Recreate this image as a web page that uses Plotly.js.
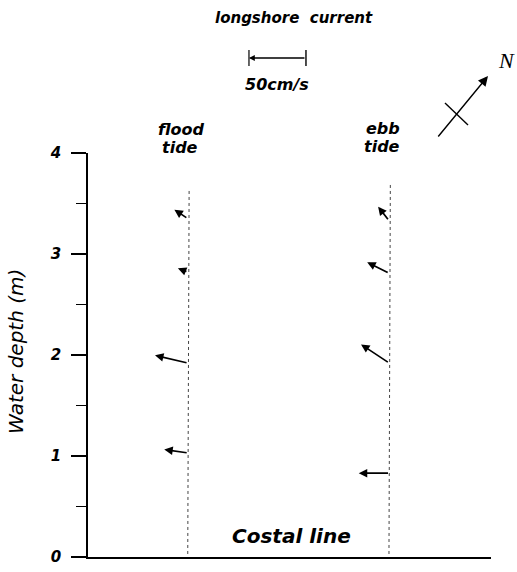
<!DOCTYPE html>
<html>
<head>
<meta charset="utf-8">
<script src="https://cdn.plot.ly/plotly-3.0.1.min.js"></script>
<style>html,body{margin:0;padding:0;background:#fff;}#chart{width:517px;height:572px;}</style>
</head>
<body>
<div id="chart"></div>
<script>
// ---- data (velocities in cm/s, depth in m) ----
const floodDepth = [3.35, 2.82, 1.92, 1.03];
const floodU = [-11.8, -8.8, -29.0, -21.0];
const floodV = [7.9, 3.5, 6.8, 3.0];
const ebbDepth = [3.33, 2.81, 1.92, 0.83];
const ebbU = [-9.6, -19.3, -24.8, -27.0];
const ebbV = [12.3, 9.6, 16.4, 0.0];
const floodTop = 3.64;
const ebbTop = 3.71;
const scaleSpeed = 50; // cm/s
const yTickVals = [0, 1, 2, 3, 4];
const yMinorVals = [0.5, 1.5, 2.5, 3.5];

// ---- layout geometry ----
const W = 517, H = 572;
const M = {l: 88, r: 26, t: 153, b: 15};
const plotW = W - M.l - M.r, plotH = H - M.t - M.b;
const xMax = 353.5;              // horizontal axis, cm/s-equivalent units
const yMax = 4;
const floodX = 87.5, ebbX = 264;  // station positions on the horizontal scale
const vScale = (plotW / xMax) / (plotH / yMax); // m of axis per cm/s

const px = (x) => (x - M.l) / plotW;
const py = (y) => (H - M.b - y) / plotH;

const FAM = 'DejaVu Sans, Verdana, sans-serif';
const bi = (s) => ({family: FAM, size: s, color: '#000', weight: 700, style: 'italic'});

const traces = [
  {x: [floodX, floodX + 1.2], y: [0.03, floodTop], mode: 'lines', line: {color: '#444', width: 1, dash: 'dot'}, hoverinfo: 'skip', showlegend: false},
  {x: [ebbX, ebbX + 1.2], y: [0.03, ebbTop], mode: 'lines', line: {color: '#444', width: 1, dash: 'dot'}, hoverinfo: 'skip', showlegend: false}
];

const annotations = [];
function vec(x0, d, u, v) {
  annotations.push({
    x: x0 + u, y: d + v * vScale, ax: x0, ay: d,
    xref: 'x', yref: 'y', axref: 'x', ayref: 'y',
    text: '', showarrow: true, arrowhead: 2, arrowsize: 1, arrowwidth: 1.7, arrowcolor: '#000'
  });
}
floodDepth.forEach((d, i) => vec(floodX + 0.5 * (1 - d / 4), d, floodU[i], floodV[i]));
ebbDepth.forEach((d, i) => vec(ebbX + 0.6 * (1 - d / 4), d, ebbU[i], ebbV[i]));

// scale arrow
const scaleRight = 191.2;
const scaleY = py(58);
annotations.push({
  x: scaleRight - scaleSpeed, y: scaleY, ax: scaleRight, ay: scaleY,
  xref: 'x', yref: 'paper', axref: 'x', ayref: 'paper',
  text: '', showarrow: true, arrowhead: 2, arrowsize: 0.9, arrowwidth: 1.3, arrowcolor: '#000'
});

function label(t, x, y, font, extra) {
  annotations.push(Object.assign({x: px(x), y: py(y), xref: 'paper', yref: 'paper', xanchor: 'center', yanchor: 'middle',
    text: t, showarrow: false, font: font}, extra || {}));
}
label('longshore\u00a0\u00a0current', 293.5, 18, bi(15));
label('50cm/s', 277, 84, bi(16));
label('flood', 181.5, 130, bi(16));
label('tide', 180, 147, bi(16));
label('ebb', 382.5, 129, bi(16));
label('tide', 382, 146, bi(16));
label('Costal line', 291, 536, bi(20));
label('Water depth (m)', 16, 352, {family: FAM, size: 20, color: '#000', style: 'italic'}, {textangle: -90});
label('N', 506, 60, {family: 'Liberation Serif, Times New Roman, serif', size: 22, color: '#000', style: 'italic'});

// north arrow
annotations.push({x: px(488), y: py(76), xref: 'paper', yref: 'paper', ax: -51, ay: 62, text: '', showarrow: true,
  arrowhead: 2, arrowsize: 1.4, arrowwidth: 1.4, arrowcolor: '#000'});

const shapes = [
  {type: 'line', xref: 'x', yref: 'paper', x0: scaleRight - scaleSpeed, x1: scaleRight - scaleSpeed, y0: py(50), y1: py(66), line: {color: '#000', width: 1.2}},
  {type: 'line', xref: 'x', yref: 'paper', x0: scaleRight, x1: scaleRight, y0: py(50), y1: py(66), line: {color: '#000', width: 1.4}},
  {type: 'line', xref: 'paper', yref: 'paper', x0: px(445), y0: py(103), x1: px(468), y1: py(125), line: {color: '#000', width: 1.4}}
];

const layout = {
  width: W, height: H,
  margin: M,
  paper_bgcolor: '#fff', plot_bgcolor: '#fff',
  showlegend: false,
  xaxis: {range: [0, xMax], showline: true, linecolor: '#000', linewidth: 2, showticklabels: false, ticks: '', showgrid: false, zeroline: false, fixedrange: true},
  yaxis: {range: [0, yMax], showline: true, linecolor: '#000', linewidth: 1.8, ticks: 'outside', ticklen: 15, tickwidth: 1.5, tickcolor: '#000',
    tickvals: yTickVals, ticktext: yTickVals.map(String), ticklabelstandoff: 7,
    minor: {tickvals: yMinorVals, ticks: 'outside', ticklen: 10, tickwidth: 1.2, tickcolor: '#000', showgrid: false},
    tickfont: bi(15),
    showgrid: false, zeroline: false, fixedrange: true},
  annotations: annotations,
  shapes: shapes
};

Plotly.newPlot('chart', traces, layout, {displayModeBar: false, staticPlot: true});
</script>
</body>
</html>
